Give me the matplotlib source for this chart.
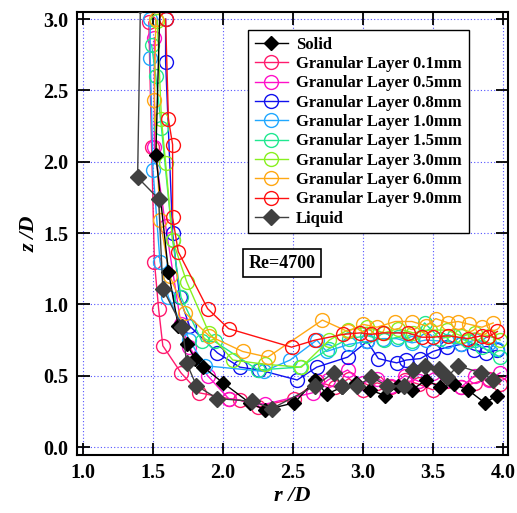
import matplotlib
matplotlib.use('Agg')
import matplotlib.pyplot as plt

plt.rcParams['font.family'] = ['Liberation Serif', 'DejaVu Serif']
plt.rcParams['font.weight'] = 'bold'

# Solid
solid_x = [1.55, 1.52, 1.61, 1.68, 1.74, 1.80, 1.86, 2.00, 2.19, 2.30, 2.51, 2.66, 2.74, 2.85,
           2.95, 3.05, 3.16, 3.25, 3.35, 3.45, 3.55, 3.65, 3.75, 3.87, 3.96]
solid_y = [3.10, 2.05, 1.23, 0.85, 0.72, 0.62, 0.56, 0.45, 0.31, 0.26, 0.31, 0.47, 0.37, 0.42,
           0.45, 0.40, 0.36, 0.43, 0.40, 0.47, 0.42, 0.44, 0.40, 0.31, 0.36]

# Granular layers
g01_x = [1.47, 1.49, 1.51, 1.54, 1.57, 1.70, 1.83, 2.04, 2.12, 2.25, 2.51, 2.67, 2.80, 2.90,
         3.00, 3.10, 3.20, 3.30, 3.40, 3.50, 3.60, 3.70, 3.80, 3.90, 3.98]
g01_y = [2.98, 2.10, 1.30, 0.97, 0.71, 0.52, 0.38, 0.34, 0.33, 0.28, 0.34, 0.46, 0.42, 0.48,
         0.40, 0.45, 0.42, 0.47, 0.44, 0.40, 0.46, 0.42, 0.45, 0.48, 0.44]

g05_x = [1.51, 1.51, 1.59, 1.70, 1.76, 1.89, 2.04, 2.30, 2.64, 2.75, 2.89, 3.00, 3.10, 3.20,
         3.30, 3.40, 3.50, 3.60, 3.70, 3.80, 3.90, 3.98]
g05_y = [2.87, 2.10, 1.55, 0.86, 0.70, 0.50, 0.34, 0.30, 0.38, 0.47, 0.54, 0.45, 0.48, 0.43,
         0.50, 0.46, 0.52, 0.47, 0.42, 0.50, 0.47, 0.52]

g08_x = [1.59, 1.59, 1.64, 1.69, 1.76, 1.96, 2.12, 2.26, 2.53, 2.67, 2.89, 3.03, 3.11, 3.24,
         3.31, 3.41, 3.50, 3.60, 3.70, 3.79, 3.88, 3.96]
g08_y = [3.00, 2.70, 1.50, 1.05, 0.85, 0.66, 0.56, 0.54, 0.47, 0.56, 0.63, 0.74, 0.62, 0.59,
         0.61, 0.62, 0.67, 0.70, 0.72, 0.68, 0.66, 0.68]

g10_x = [1.48, 1.48, 1.50, 1.55, 1.61, 1.76, 1.87, 2.29, 2.48, 2.67, 2.74, 2.90, 3.03, 3.14,
         3.24, 3.35, 3.45, 3.60, 3.70, 3.80, 3.90, 3.96]
g10_y = [3.00, 2.73, 1.94, 1.30, 1.05, 0.75, 0.57, 0.53, 0.61, 0.75, 0.67, 0.72, 0.74, 0.76,
         0.76, 0.73, 0.75, 0.74, 0.72, 0.75, 0.73, 0.69]

g15_x = [1.49, 1.52, 1.56, 1.64, 1.70, 1.85, 1.94, 2.25, 2.55, 2.76, 2.90, 3.03, 3.15, 3.25,
         3.35, 3.44, 3.55, 3.65, 3.75, 3.85, 3.98]
g15_y = [2.82, 2.60, 2.24, 1.45, 1.05, 0.74, 0.74, 0.54, 0.56, 0.69, 0.76, 0.78, 0.75, 0.77,
         0.74, 0.87, 0.76, 0.78, 0.74, 0.70, 0.63]

g30_x = [1.53, 1.56, 1.59, 1.64, 1.74, 1.90, 2.07, 2.30, 2.56, 2.76, 2.89, 3.03, 3.15, 3.25,
         3.36, 3.48, 3.60, 3.70, 3.80, 3.90, 3.98]
g30_y = [2.99, 2.30, 1.99, 1.45, 1.16, 0.80, 0.61, 0.58, 0.56, 0.75, 0.82, 0.84, 0.80, 0.83,
         0.80, 0.82, 0.82, 0.78, 0.80, 0.78, 0.75]

g60_x = [1.52, 1.51, 1.55, 1.62, 1.73, 1.90, 2.14, 2.32, 2.71, 2.89, 3.00, 3.10, 3.23, 3.35,
         3.45, 3.52, 3.61, 3.68, 3.76, 3.85, 3.93]
g60_y = [3.00, 2.43, 1.59, 1.20, 0.94, 0.78, 0.67, 0.63, 0.89, 0.81, 0.86, 0.84, 0.88, 0.88,
         0.85, 0.90, 0.87, 0.88, 0.86, 0.84, 0.87]

g90_x = [1.59, 1.61, 1.64, 1.64, 1.68, 1.89, 2.04, 2.49, 2.66, 2.86, 2.98, 3.06, 3.14, 3.32,
         3.42, 3.50, 3.61, 3.75, 3.85, 3.89, 3.96]
g90_y = [3.00, 2.30, 2.12, 1.61, 1.37, 0.97, 0.83, 0.70, 0.75, 0.79, 0.80, 0.79, 0.80, 0.80,
         0.77, 0.77, 0.78, 0.76, 0.78, 0.77, 0.81]

# Liquid
liq_x = [1.41, 1.39, 1.54, 1.57, 1.71, 1.74, 1.81, 1.96, 2.21, 2.35, 2.66, 2.79, 2.85, 2.96,
         3.06, 3.17, 3.29, 3.36, 3.44, 3.54, 3.60, 3.68, 3.84, 3.93]
liq_y = [3.10, 1.89, 1.74, 1.11, 0.84, 0.59, 0.43, 0.34, 0.32, 0.27, 0.43, 0.52, 0.43, 0.43,
         0.49, 0.43, 0.43, 0.54, 0.57, 0.55, 0.49, 0.57, 0.52, 0.47]

granular = [
    (g01_x, g01_y, '#ff1a6e', 'Granular Layer 0.1mm'),
    (g05_x, g05_y, '#ff10c8', 'Granular Layer 0.5mm'),
    (g08_x, g08_y, '#1010ee', 'Granular Layer 0.8mm'),
    (g10_x, g10_y, '#20a8ff', 'Granular Layer 1.0mm'),
    (g15_x, g15_y, '#20e890', 'Granular Layer 1.5mm'),
    (g30_x, g30_y, '#88f020', 'Granular Layer 3.0mm'),
    (g60_x, g60_y, '#ffa814', 'Granular Layer 6.0mm'),
    (g90_x, g90_y, '#ff1010', 'Granular Layer 9.0mm'),
]

fig = plt.figure(figsize=(5.17, 5.13), dpi=100)
ax = fig.add_axes([77 / 517, 1 - 455 / 513, 431 / 517, 443 / 513])

ax.plot(solid_x, solid_y, '-', color='black', lw=1.0, marker='D', ms=7,
        mfc='black', mec='black', label='Solid', zorder=4)
for xs, ys, c, lab in granular:
    ax.plot(xs, ys, '-', color=c, lw=1.0, marker='o', ms=10, mfc='none',
            mec=c, mew=1.0, label=lab)
ax.plot(liq_x, liq_y, '-', color='#404040', lw=1.0, marker='D', ms=8,
        mfc='#404040', mec='#404040', label='Liquid', zorder=5)

ax.set_xlim(0.957, 4.036)
ax.set_ylim(-0.056, 3.05)
ax.set_xticks([1.0, 1.5, 2.0, 2.5, 3.0, 3.5, 4.0])
ax.set_yticks([0.0, 0.5, 1.0, 1.5, 2.0, 2.5, 3.0])
ax.set_xticklabels(['1.0', '1.5', '2.0', '2.5', '3.0', '3.5', '4.0'], fontsize=14.5, fontweight='bold')
ax.set_yticklabels(['0.0', '0.5', '1.0', '1.5', '2.0', '2.5', '3.0'], fontsize=14.5, fontweight='bold')
ax.tick_params(direction='in', length=9, width=1.3, top=True, right=True, pad=6)
ax.grid(True, color='#5050ff', linestyle=(0, (1, 2)), lw=0.8)
for s in ax.spines.values():
    s.set_linewidth(1.5)

ax.set_xlabel('r /D', fontsize=16, fontstyle='italic', fontweight='bold', labelpad=2)
ax.set_ylabel('z /D', fontsize=16, fontstyle='italic', fontweight='bold', labelpad=3)

ax.text(2.42, 1.29, 'Re=4700', fontsize=13, fontweight='bold', ha='center', va='center',
        bbox=dict(boxstyle='square,pad=0.3', fc='white', ec='black', lw=1.2))

leg = ax.legend(loc='upper right', bbox_to_anchor=(0.928, 0.978),
                prop={'weight': 'bold', 'size': 12}, fancybox=False, framealpha=1,
                edgecolor='black', handlelength=2.0, labelspacing=0.2,
                borderpad=0.4, handletextpad=0.5)
leg.get_frame().set_linewidth(1.0)

fig.savefig('out.png', dpi=100)
